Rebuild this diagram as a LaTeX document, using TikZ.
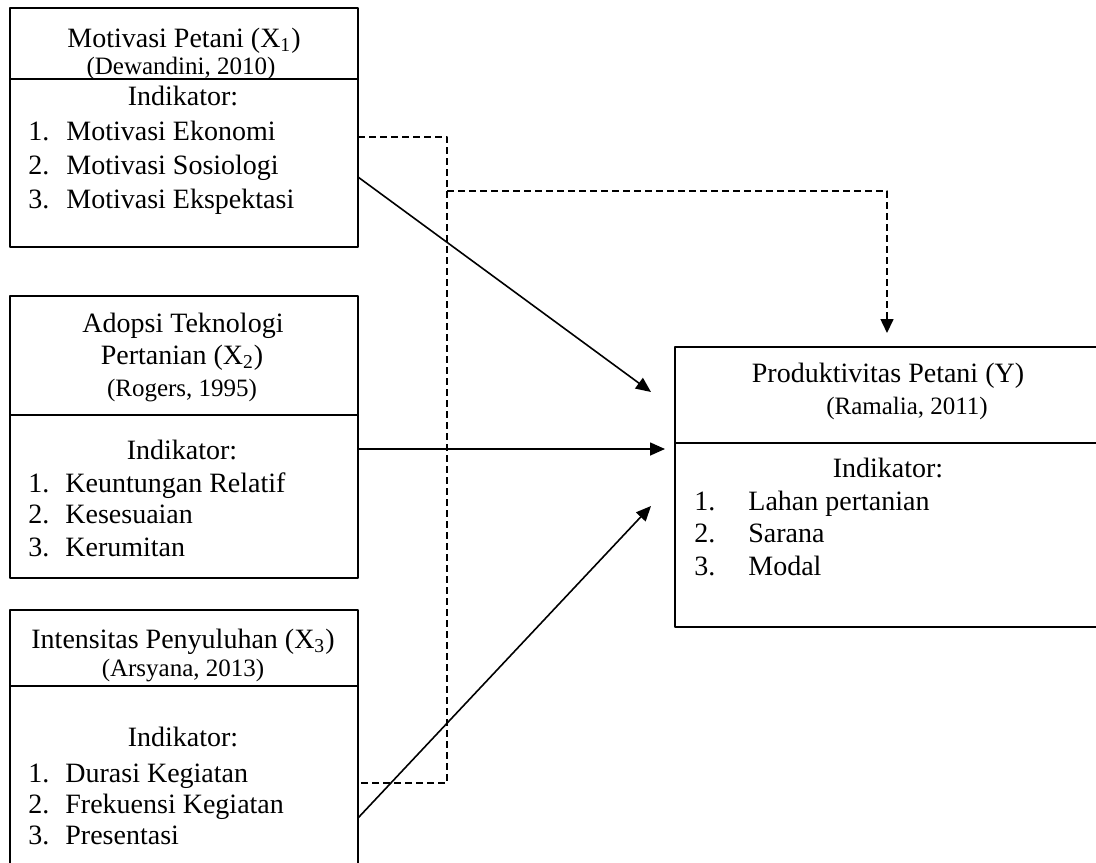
\documentclass[tikz,border=0pt]{standalone}
\usepackage{fontspec}
\setmainfont{Liberation Serif}
\usetikzlibrary{arrows.meta}

\begin{document}
\begin{tikzpicture}[x=0.5pt,y=-0.5pt,line join=round,
	kotak/.style={line width=0.8pt},
	judul/.style={inner sep=0pt,anchor=base,font=\fontsize{14}{16}\selectfont},
	sumber/.style={inner sep=0pt,anchor=base,font=\fontsize{12.5}{14}\selectfont},
	butir/.style={inner sep=0pt,anchor=base west,font=\fontsize{14}{16}\selectfont},
	panah/.style={line width=0.8pt,-{Triangle[length=7.5pt,width=6.5pt]}},
	putus/.style={line width=0.8pt,dash pattern=on 3.5pt off 2pt}]
	\useasboundingbox (0,0) rectangle (1096,862);
	\clip (0,0) rectangle (1096,862);

	% kotak variabel X1, X2, X3 dan Y
	\draw[kotak] (10,8) rectangle (358,247);
	\draw[kotak] (10,79) -- (358,79);
	\draw[kotak] (10,296) rectangle (358,578);
	\draw[kotak] (10,415) -- (358,415);
	\draw[kotak] (10,610) rectangle (358,900);
	\draw[kotak] (10,686) -- (358,686);
	\draw[kotak] (675,347) rectangle (1120,627);
	\draw[kotak] (675,443) -- (1120,443);

	% titik ujung garis
	\coordinate (a1) at (358,177);
	\coordinate (b1) at (651,392);
	\coordinate (a2) at (358,449);
	\coordinate (b2) at (665,449);
	\coordinate (a3) at (358,818);
	\coordinate (b3) at (651,506);
	\coordinate (d1) at (358,137);
	\coordinate (d2) at (447,137);
	\coordinate (d3) at (447,783);
	\coordinate (d4) at (358,783);
	\coordinate (e1) at (447,191);
	\coordinate (e2) at (887,191);
	\coordinate (e3) at (887,333);

	% pengaruh langsung
	\draw[panah] (a1) -- (b1);
	\draw[panah] (a2) -- (b2);
	\draw[panah] (a3) -- (b3);

	% hubungan antar variabel X (garis putus-putus)
	\draw[putus] (d1) -- (d2) -- (d3) -- (d4);
	\draw[putus,-{Triangle[length=7pt,width=6.5pt]}] (e1) -- (e2) -- (e3);

	% teks X1
	\node[judul] (x1j) at (184,47) {Motivasi Petani (X\textsubscript{1})};
	\node[sumber] (x1s) at (181,74) {(Dewandini, 2010)};
	\node[judul] (x1i) at (183,105) {Indikator:};
	\node[butir] (x1n1) at (28,140) {1.};
	\node[butir] (x1t1) at (66,140) {Motivasi Ekonomi};
	\node[butir] (x1n2) at (28,174) {2.};
	\node[butir] (x1t2) at (66,174) {Motivasi Sosiologi};
	\node[butir] (x1n3) at (28,208) {3.};
	\node[butir] (x1t3) at (66,208) {Motivasi Ekspektasi};

	% teks X2
	\node[judul] (x2j) at (183,332) {Adopsi Teknologi};
	\node[judul] (x2k) at (182,364) {Pertanian (X\textsubscript{2})};
	\node[sumber] (x2s) at (182,396) {(Rogers, 1995)};
	\node[judul] (x2i) at (182,459) {Indikator:};
	\node[butir] (x2n1) at (28,492) {1.};
	\node[butir] (x2t1) at (65,492) {Keuntungan Relatif};
	\node[butir] (x2n2) at (28,523) {2.};
	\node[butir] (x2t2) at (65,523) {Kesesuaian};
	\node[butir] (x2n3) at (28,556) {3.};
	\node[butir] (x2t3) at (65,556) {Kerumitan};

	% teks X3
	\node[judul] (x3j) at (183,648) {Intensitas Penyuluhan (X\textsubscript{3})};
	\node[sumber] (x3s) at (183,676) {(Arsyana, 2013)};
	\node[judul] (x3i) at (183,746) {Indikator:};
	\node[butir] (x3n1) at (28,782) {1.};
	\node[butir] (x3t1) at (65,782) {Durasi Kegiatan};
	\node[butir] (x3n2) at (28,813) {2.};
	\node[butir] (x3t2) at (65,813) {Frekuensi Kegiatan};
	\node[butir] (x3n3) at (28,844) {3.};
	\node[butir] (x3t3) at (65,844) {Presentasi};

	% teks Y
	\node[judul] (yj) at (888,382) {Produktivitas Petani (Y)};
	\node[sumber] (ys) at (907,414) {(Ramalia, 2011)};
	\node[judul] (yi) at (888,477) {Indikator:};
	\node[butir] (yn1) at (694,510) {1.};
	\node[butir] (yt1) at (748,510) {Lahan pertanian};
	\node[butir] (yn2) at (694,542) {2.};
	\node[butir] (yt2) at (748,542) {Sarana};
	\node[butir] (yn3) at (694,575) {3.};
	\node[butir] (yt3) at (748,575) {Modal};
\end{tikzpicture}
\end{document}
